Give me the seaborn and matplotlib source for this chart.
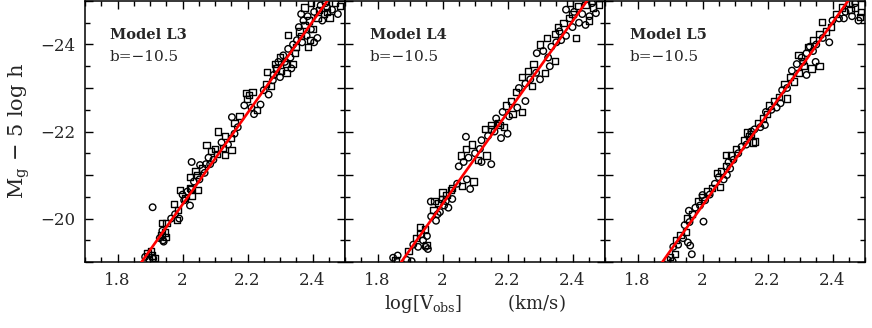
"""
Tully-Fisher relation for models L3, L4, L5 (b = -10.5)
"""
import matplotlib
matplotlib.use('Agg')
import matplotlib.pyplot as plt
import seaborn as sns
import pandas as pd
import numpy as np
from matplotlib.ticker import MultipleLocator, FuncFormatter

sns.set_style('ticks')
plt.rcParams['font.family'] = ['DejaVu Serif']
plt.rcParams['mathtext.fontset'] = 'dejavuserif'
plt.rcParams['axes.unicode_minus'] = True

# ---- data ----
panel_names = ['Model L3', 'Model L4', 'Model L5']
slope_b = -10.5
fit_zero = [0.675, 0.665, 0.700]   # red line: M = zero + b * logV
fit_x = [1.70, 2.50]

# Model L3
l3_circ_x = [1.885, 1.898, 1.910, 1.908, 1.930, 1.940, 1.938, 1.942, 1.965, 1.977,
             1.990, 2.000, 2.015, 2.005, 2.023, 2.035, 2.052, 2.068, 2.072, 2.028,
             2.054, 2.080, 2.095, 2.085, 2.120, 2.140, 2.160, 2.152, 2.170, 2.190,
             2.212, 2.220, 2.240, 2.250, 2.265, 2.278, 2.280, 2.295, 2.310, 2.325,
             2.340, 2.300, 2.335, 2.352, 2.368, 2.382, 2.395, 2.405, 2.365, 2.385,
             2.405, 2.425, 2.445, 2.460, 2.478, 2.415, 2.332, 2.358, 2.372, 2.430,
             2.440, 2.290, 2.315]
l3_circ_m = [-19.12, -19.05, -19.08, -20.26, -19.55, -19.50, -19.72, -19.47, -20.00, -20.10,
             -20.00, -20.55, -20.62, -20.42, -20.30, -20.85, -20.90, -21.05, -21.25, -21.30,
             -21.23, -21.40, -21.35, -21.25, -21.75, -21.70, -21.95, -22.33, -22.10, -22.60,
             -22.55, -22.40, -22.62, -22.95, -22.85, -23.18, -23.30, -23.60, -23.75, -23.90,
             -24.00, -23.25, -23.45, -24.10, -24.05, -24.20, -24.35, -24.05, -24.70, -24.65,
             -24.75, -24.90, -24.85, -24.80, -24.70, -24.15, -23.70, -24.40, -24.55, -24.55,
             -24.95, -23.45, -23.60]
l3_sq_x = [1.892, 1.905, 1.902, 1.915, 1.935, 1.945, 1.948, 1.936, 1.951, 1.985,
           1.982, 1.974, 1.992, 2.008, 2.022, 2.026, 2.028, 2.048, 2.023, 2.045,
           2.060, 2.040, 2.074, 2.088, 2.100, 2.105, 2.130, 2.110, 2.130, 2.150,
           2.125, 2.151, 2.160, 2.175, 2.198, 2.205, 2.215, 2.195, 2.228, 2.258,
           2.272, 2.260, 2.288, 2.302, 2.318, 2.345, 2.285, 2.320, 2.340, 2.325,
           2.360, 2.375, 2.390, 2.392, 2.385, 2.375, 2.395, 2.415, 2.435, 2.452,
           2.470, 2.485, 2.300, 2.350, 2.365, 2.400, 2.420, 2.445]
l3_sq_m = [-19.20, -19.15, -19.25, -19.10, -19.62, -19.68, -19.58, -19.90, -19.89, -20.20,
           -19.97, -20.33, -20.65, -20.48, -20.70, -20.68, -20.52, -20.65, -20.95, -21.00,
           -21.15, -21.10, -21.69, -21.55, -21.60, -21.48, -21.46, -22.00, -21.90, -21.85,
           -21.62, -21.57, -22.20, -22.35, -22.75, -22.84, -22.90, -22.88, -22.50, -23.10,
           -23.05, -23.37, -23.45, -23.40, -23.55, -23.80, -23.55, -23.35, -23.55, -24.22,
           -24.30, -24.45, -24.55, -24.10, -23.95, -24.85, -24.95, -24.60, -24.70, -24.62,
           -24.95, -24.88, -23.70, -23.95, -24.20, -24.35, -24.80, -24.75]

# Model L4
l4_circ_x = [1.848, 1.862, 1.890, 1.905, 1.910, 1.925, 1.940, 1.952, 1.948, 1.955,
             1.965, 1.980, 1.992, 2.005, 2.018, 2.030, 1.964, 2.045, 2.075, 2.085,
             2.050, 2.065, 2.080, 2.100, 2.115, 2.072, 2.120, 2.150, 2.120, 2.140,
             2.160, 2.180, 2.200, 2.165, 2.185, 2.205, 2.230, 2.255, 2.235, 2.255,
             2.270, 2.288, 2.300, 2.330, 2.290, 2.310, 2.335, 2.350, 2.360, 2.380,
             2.400, 2.420, 2.380, 2.405, 2.430, 2.452, 2.472, 2.325, 2.365, 2.440,
             2.460, 2.010, 1.985]
l4_circ_m = [-19.10, -19.15, -19.05, -19.02, -19.40, -19.35, -19.50, -19.60, -19.35, -19.30,
             -20.05, -19.95, -20.15, -20.30, -20.25, -20.45, -20.39, -20.80, -20.90, -20.68,
             -21.20, -21.30, -21.40, -21.50, -21.60, -21.88, -21.30, -21.25, -21.80, -21.90,
             -22.00, -21.85, -21.95, -22.30, -22.45, -22.35, -22.55, -22.70, -23.00, -23.10,
             -23.20, -23.35, -23.20, -23.50, -23.80, -23.85, -23.95, -24.05, -24.30, -24.20,
             -24.40, -24.50, -24.80, -24.75, -24.70, -24.65, -24.72, -23.70, -24.10, -24.45,
             -24.95, -20.40, -20.10]
l4_sq_x = [1.855, 1.895, 1.918, 1.932, 1.945, 1.930, 1.951, 1.972, 1.985, 1.998,
           2.012, 2.025, 1.975, 2.000, 2.030, 2.060, 2.095, 2.058, 2.072, 2.090,
           2.108, 2.135, 2.130, 2.150, 2.170, 2.190, 2.150, 2.175, 2.195, 2.210,
           2.215, 2.245, 2.245, 2.262, 2.280, 2.315, 2.345, 2.300, 2.322, 2.345,
           2.372, 2.390, 2.410, 2.392, 2.418, 2.440, 2.462, 2.482, 2.275, 2.355,
           2.400, 2.450, 2.225]
l4_sq_m = [-19.05, -19.25, -19.55, -19.65, -19.75, -19.80, -19.39, -20.20, -20.35, -20.45,
           -20.55, -20.65, -20.40, -20.60, -20.70, -20.75, -20.85, -21.45, -21.60, -21.70,
           -21.35, -21.45, -22.05, -22.15, -22.20, -22.10, -22.05, -22.15, -22.60, -22.70,
           -22.40, -22.45, -23.25, -23.40, -23.55, -23.35, -23.62, -24.00, -24.15, -24.25,
           -24.50, -24.60, -24.15, -24.95, -24.88, -24.90, -24.85, -24.92, -23.05, -24.40,
           -24.70, -24.55, -22.90]

# Model L5
l5_circ_x = [1.893, 1.908, 1.967, 1.910, 1.925, 1.940, 1.955, 1.962, 1.945, 1.960,
             1.958, 2.003, 1.978, 1.992, 2.008, 2.022, 2.038, 2.000, 2.050, 2.065,
             2.075, 2.080, 2.095, 2.110, 2.085, 2.120, 2.135, 2.150, 2.160, 2.178,
             2.192, 2.195, 2.212, 2.228, 2.240, 2.245, 2.260, 2.275, 2.290, 2.305,
             2.320, 2.320, 2.348, 2.330, 2.350, 2.370, 2.390, 2.400, 2.420, 2.440,
             2.460, 2.480, 2.310, 2.340, 2.435, 2.470]
l5_circ_m = [-19.05, -19.02, -19.18, -19.35, -19.40, -19.55, -19.45, -19.38, -19.85, -19.92,
             -20.18, -19.93, -20.25, -20.30, -20.42, -20.55, -20.80, -20.54, -20.95, -20.90,
             -21.00, -21.30, -21.35, -21.50, -21.15, -21.65, -21.70, -22.00, -22.05, -22.10,
             -22.15, -22.45, -22.50, -22.55, -22.65, -22.95, -23.00, -23.40, -23.55, -23.70,
             -23.80, -23.30, -23.60, -23.95, -24.00, -24.15, -24.05, -24.55, -24.60, -24.75,
             -24.65, -24.55, -23.60, -23.85, -24.60, -24.95]
l5_sq_x = [1.900, 1.915, 1.918, 1.932, 1.948, 1.952, 1.968, 1.985, 2.000, 2.015,
           2.030, 2.045, 2.054, 2.058, 2.072, 2.088, 2.102, 2.072, 2.128, 2.142,
           2.155, 2.162, 2.138, 2.170, 2.185, 2.198, 2.150, 2.205, 2.220, 2.235,
           2.260, 2.252, 2.268, 2.282, 2.298, 2.312, 2.335, 2.360, 2.340, 2.360,
           2.380, 2.367, 2.410, 2.430, 2.450, 2.470, 2.488, 2.485, 2.295, 2.325,
           2.395, 2.455]
l5_sq_m = [-19.12, -19.18, -19.50, -19.62, -19.70, -20.00, -20.10, -20.40, -20.50, -20.62,
           -20.70, -21.05, -20.73, -21.10, -21.20, -21.45, -21.60, -21.46, -21.80, -21.90,
           -21.75, -21.77, -21.98, -22.20, -22.30, -22.40, -21.95, -22.60, -22.70, -22.80,
           -22.76, -23.10, -23.25, -23.15, -23.35, -23.50, -23.45, -23.50, -24.10, -24.25,
           -24.30, -24.52, -24.70, -24.85, -24.95, -24.85, -24.75, -24.64, -23.75, -23.95,
           -24.40, -24.80]

circ_x = [l3_circ_x, l4_circ_x, l5_circ_x]
circ_m = [l3_circ_m, l4_circ_m, l5_circ_m]
sq_x = [l3_sq_x, l4_sq_x, l5_sq_x]
sq_m = [l3_sq_m, l4_sq_m, l5_sq_m]

# ---- figure ----
fig, axes = plt.subplots(1, 3, figsize=(8.72, 3.28), dpi=100, sharey=True)
fig.subplots_adjust(left=0.0975, right=0.992, bottom=0.201, top=0.997, wspace=0)

for i, ax in enumerate(axes):
    sns.scatterplot(x=circ_x[i], y=circ_m[i], marker='o', s=22, facecolor='none',
                    edgecolor='black', linewidth=1.0, ax=ax, zorder=2)
    sns.scatterplot(x=sq_x[i], y=sq_m[i], marker='s', s=20, facecolor='none',
                    edgecolor='black', linewidth=1.0, ax=ax, zorder=2)

    # fitted relation
    line_m = [fit_zero[i] + slope_b * v for v in fit_x]
    sns.lineplot(x=fit_x, y=line_m, color='red', linewidth=1.9, ax=ax, zorder=3)

    ax.set_xlim(1.7, 2.5)
    ax.set_ylim(-19, -25)

    ax.xaxis.set_major_locator(MultipleLocator(0.2))
    ax.xaxis.set_minor_locator(MultipleLocator(0.05))
    ax.yaxis.set_major_locator(MultipleLocator(1))
    ax.yaxis.set_minor_locator(MultipleLocator(0.5))
    ax.xaxis.set_major_formatter(FuncFormatter(lambda v, p: f'{v:g}'))
    ax.yaxis.set_major_formatter(FuncFormatter(
        lambda v, p: f'{v:g}'.replace('-', '\u2212') if round(v) % 2 == 0 else ''))

    ax.tick_params(which='both', direction='in', top=True, right=True,
                   width=1.0, labelsize=12, color='black')
    ax.tick_params(which='major', length=6, pad=7)
    ax.tick_params(which='minor', length=3.5)
    if i > 0:
        ax.tick_params(labelleft=False)
    for sp in ax.spines.values():
        sp.set_linewidth(1.1)
        sp.set_color('black')

    ax.set_xlabel('')
    ax.set_ylabel('')
    ax.text(0.095, 0.87, panel_names[i], transform=ax.transAxes, fontsize=10.5,
            fontweight='bold', va='center', ha='left')
    ax.text(0.095, 0.785, 'b=\u221210.5', transform=ax.transAxes, fontsize=11,
            va='center', ha='left')

fig.text(0.545, 0.075, r'log[V$_\mathregular{obs}$]        (km/s)', ha='center',
         va='center', fontsize=13)
fig.text(0.022, 0.6, r'M$_\mathregular{g}$ $-$ 5 log h', rotation=90, ha='center',
         va='center', fontsize=15)

plt.savefig('out.png', dpi=100)
